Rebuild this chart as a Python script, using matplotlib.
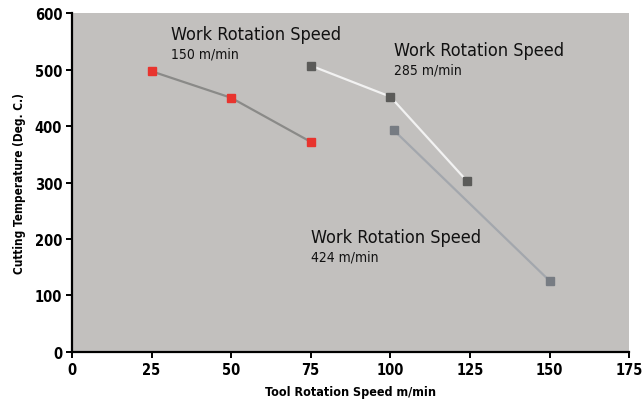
import matplotlib
matplotlib.use("Agg")
import matplotlib.pyplot as plt
from matplotlib import font_manager

# --- data ---
x_150 = [25, 50, 75]
t_150 = [497, 450, 372]
x_285 = [75, 100, 124]
t_285 = [507, 452, 303]
x_424 = [101, 150]
t_424 = [393, 126]

labels = [("Work Rotation Speed", "150 m/min", 31, 578),
          ("Work Rotation Speed", "285 m/min", 101, 551),
          ("Work Rotation Speed", "424 m/min", 75, 220)]

xticks = [0, 25, 50, 75, 100, 125, 150, 175]
yticks = [0, 100, 200, 300, 400, 500, 600]

# reference uses a condensed grotesque; take the narrowest font we have
fonts = font_manager.fontManager.ttflist
names = {f.name for f in fonts}
stretch = "normal"
if "Liberation Sans Narrow" in names:
    family = "Liberation Sans Narrow"
elif any(f.name == "DejaVu Sans" and "Condensed" in f.fname for f in fonts):
    family, stretch = "DejaVu Sans", "condensed"
else:
    family = "Liberation Sans"
plt.rcParams['font.family'] = [family, "DejaVu Sans"]
plt.rcParams['font.stretch'] = stretch

fig = plt.figure(figsize=(6.42, 4.02), dpi=100)
ax = fig.add_axes([0.112, 0.122, 0.868, 0.843])
ax.set_facecolor("#c2c0be")

ax.plot(x_150, t_150, color="#8a8a88", lw=1.6, zorder=2)
ax.plot(x_150, t_150, "s", color="#e8342e", ms=6, zorder=3)
ax.plot(x_285, t_285, color="#f2f2f2", lw=1.6, zorder=2)
ax.plot(x_285, t_285, "s", color="#5b5b59", ms=6, zorder=3)
ax.plot(x_424, t_424, color="#a3a7ad", lw=1.6, zorder=2)
ax.plot(x_424, t_424, "s", color="#777c83", ms=6, zorder=3)

for title, sub, x, y in labels:
    ax.text(x, y, title, fontsize=13, va="top", ha="left", color="#111111")
    ax.text(x, y - 38, sub, fontsize=10, va="top", ha="left", color="#111111")

ax.set_xlim(0, 175)
ax.set_ylim(0, 600)
ax.set_xticks(xticks)
ax.set_yticks(yticks)
for s in ["top", "right"]:
    ax.spines[s].set_visible(False)
for s in ["left", "bottom"]:
    ax.spines[s].set_linewidth(1.6)
ax.tick_params(direction="out", length=4, width=1.4, labelsize=10.5, pad=3)
for lab in ax.get_xticklabels() + ax.get_yticklabels():
    lab.set_fontweight("bold")

ax.set_xlabel("Tool Rotation Speed m/min", fontsize=9, fontweight="bold", labelpad=6)
ax.set_ylabel("Cutting Temperature (Deg. C.)", fontsize=8.5, fontweight="bold", labelpad=6)

fig.savefig("out.png", dpi=100)
